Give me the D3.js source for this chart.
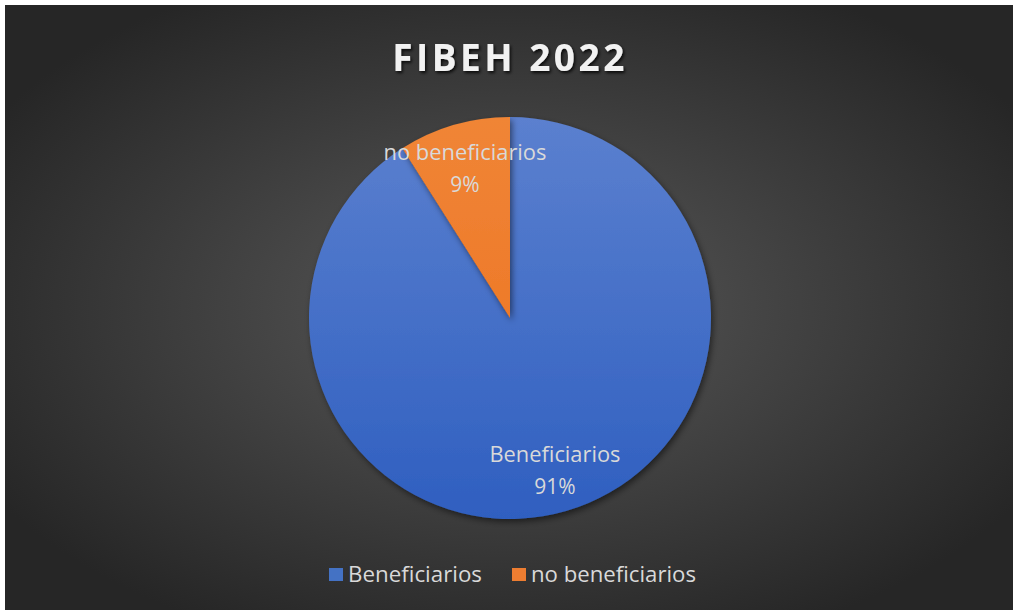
<!DOCTYPE html>
<html><head><meta charset="utf-8">
<script src="https://cdn.jsdelivr.net/npm/d3@7"></script>
<style>html,body{margin:0;padding:0;background:#fff;}svg{display:block;}</style>
</head><body>
<svg id="c" width="1016" height="614"></svg>
<script>
const categories = ["Beneficiarios", "no beneficiarios"];
const values = [91, 9];
const percentLabels = ["91%", "9%"];
const title = "FIBEH 2022";

const colors = ["#4472C4", "#ED7D31"];
const svg = d3.select("#c");
const defs = svg.append("defs");

const bg = defs.append("radialGradient").attr("id","bg").attr("cx","50%").attr("cy","50%").attr("r","60%");
bg.append("stop").attr("offset","0%").attr("stop-color","#5a5a5a");
bg.append("stop").attr("offset","100%").attr("stop-color","#262626");

const gb = defs.append("linearGradient").attr("id","g0").attr("x1",0).attr("y1",0).attr("x2",0).attr("y2",1);
gb.append("stop").attr("offset","0%").attr("stop-color","#5b80cf");
gb.append("stop").attr("offset","100%").attr("stop-color","#2f5fc0");
const go = defs.append("linearGradient").attr("id","g1").attr("x1",0).attr("y1",0).attr("x2",0).attr("y2",1);
go.append("stop").attr("offset","0%").attr("stop-color","#f08536");
go.append("stop").attr("offset","100%").attr("stop-color","#ee7a2a");

const sh = defs.append("filter").attr("id","ts").attr("x","-10%").attr("y","-30%").attr("width","120%").attr("height","160%");
sh.append("feDropShadow").attr("dx",1.5).attr("dy",2).attr("stdDeviation",1.5).attr("flood-color","#000").attr("flood-opacity",0.8);
const ps = defs.append("filter").attr("id","ps").attr("x","-20%").attr("y","-20%").attr("width","140%").attr("height","140%");
ps.append("feDropShadow").attr("dx",2).attr("dy",3).attr("stdDeviation",3).attr("flood-color","#000").attr("flood-opacity",0.5);

svg.append("rect").attr("x",5).attr("y",5).attr("width",1008).attr("height",605).attr("fill","url(#bg)");

svg.append("text").attr("x",510).attr("y",71).attr("text-anchor","middle")
  .attr("font-family","Open Sans, DejaVu Sans, sans-serif").attr("font-weight","bold")
  .attr("font-size",37).attr("letter-spacing",3.5).attr("fill","#f2f2f2").attr("filter","url(#ts)")
  .text(title);

const cx = 510, cy = 318, R = 201;
const pie = d3.pie().sort(null).value(d=>d)(values);
const arc = d3.arc().innerRadius(0).outerRadius(R);
const g = svg.append("g").attr("transform",`translate(${cx},${cy})`);
g.selectAll("path.s").data(pie).join("path").attr("class","s")
  .attr("d",arc).attr("fill",(d,i)=>`url(#g${i})`).attr("filter","url(#ps)");

const labelPos = [[45,144],[-45,-158]];
const labelLen = [131, 163];
const lab = svg.append("g").attr("font-family","Open Sans, DejaVu Sans, sans-serif").attr("font-size",21).attr("fill","#d9d9d9").attr("text-anchor","middle");
pie.forEach((d,i)=>{
  const [dx,dy] = labelPos[i];
  lab.append("text").attr("x",cx+dx).attr("y",cy+dy).attr("textLength",labelLen[i]).attr("lengthAdjust","spacingAndGlyphs").text(categories[i]);
  lab.append("text").attr("x",cx+dx).attr("y",cy+dy+32).text(percentLabels[i]);
});

const legendX = [329, 512];
const legendLen = [134, 165];
const lg = svg.append("g").attr("font-family","Open Sans, DejaVu Sans, sans-serif").attr("font-size",21).attr("fill","#d9d9d9");
categories.forEach((c,i)=>{
  lg.append("rect").attr("x",legendX[i]).attr("y",568).attr("width",14).attr("height",13).attr("fill",colors[i]);
  lg.append("text").attr("x",legendX[i]+19).attr("y",582).attr("textLength",legendLen[i]).attr("lengthAdjust","spacingAndGlyphs").text(c);
});
</script>
</body></html>
